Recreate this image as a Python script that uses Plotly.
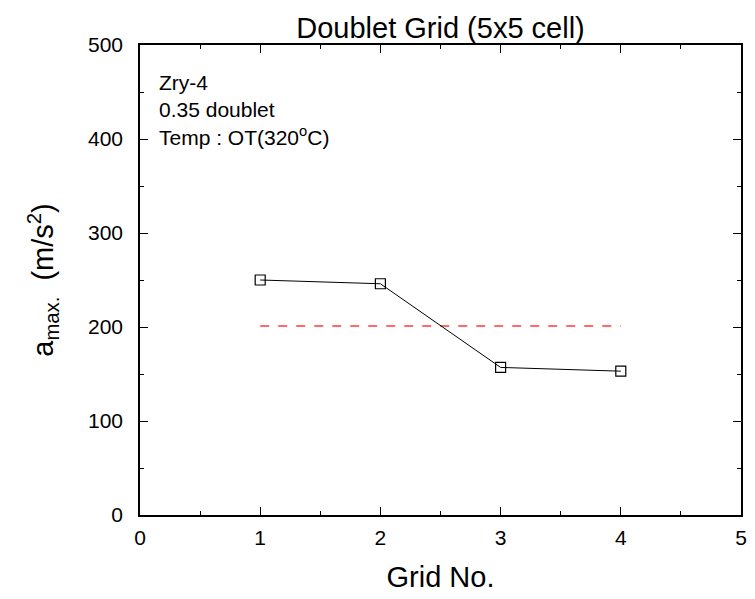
import plotly.graph_objects as go

grid_no = [1, 2, 3, 4]
a_max = [250, 246, 157, 153]
limit_x = [1, 4]
limit_y = [201, 201]

fig = go.Figure()
fig.add_trace(go.Scatter(x=limit_x, y=limit_y, mode="lines",
                         line=dict(color="#ff3b3b", width=1.5, dash="dash"), showlegend=False))
fig.add_trace(go.Scatter(x=grid_no, y=a_max, mode="lines+markers",
                         line=dict(color="black", width=1),
                         marker=dict(symbol="square-open", size=10, color="black", line=dict(width=1.2)),
                         showlegend=False))

font = "Liberation Sans, Arial, sans-serif"
axis_common = dict(showline=True, linecolor="black", linewidth=1.5, mirror="ticks",
                   ticks="inside", ticklen=8, tickwidth=1, tickcolor="black",
                   showgrid=False, zeroline=False,
                   tickfont=dict(family=font, size=21, color="black"))
fig.update_xaxes(range=[0, 5], dtick=1, ticklabelstandoff=3,
                 title=dict(text="Grid No.", font=dict(family=font, size=29, color="black"), standoff=19),
                 minor=dict(ticks="inside", ticklen=4, dtick=0.5, tickcolor="black"), **axis_common)
fig.update_yaxes(range=[0, 500], dtick=100, ticklabelstandoff=11,
                 title=dict(text="a<sub>max.</sub>  (m/s<sup>2</sup>)", font=dict(family=font, size=29, color="black"), standoff=26),
                 minor=dict(ticks="inside", ticklen=4, dtick=50, tickcolor="black"), **axis_common)

fig.add_annotation(x=0.028, y=0.95, xref="paper", yref="paper", xanchor="left", yanchor="top",
                   align="left", showarrow=False,
                   text="Zry-4<br>0.35 doublet<br>Temp : OT(320<sup>o</sup>C)",
                   font=dict(family=font, size=21, color="black"))

fig.update_layout(width=755, height=599, plot_bgcolor="white", paper_bgcolor="white",
                  margin=dict(l=132, r=22, t=37, b=92),
                  title=dict(text="Doublet Grid (5x5 cell)", x=0.5, xref="paper", xanchor="center",
                             y=0.967, yanchor="middle",
                             font=dict(family=font, size=29, color="black")))
fig.write_html("out.html")
